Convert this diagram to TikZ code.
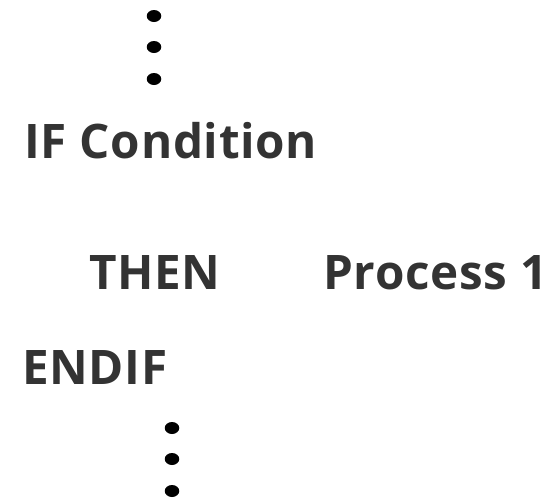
\documentclass[tikz,border=0pt]{standalone}
\usepackage{fontspec}
\setmainfont{Open Sans}[LetterSpace=1.5]
\usepackage{tikz}
\usetikzlibrary{positioning,shapes.geometric}
\definecolor{textgray}{HTML}{333333}

\begin{document}
\begin{tikzpicture}[x=1pt,y=-1pt]

\tikzstyle{every node}=[font=\fontsize{47.6}{52}\selectfont\bfseries, text=textgray, inner sep=0pt]
\tikzstyle{kw}=[anchor=base west]
\tikzstyle{dot}=[ellipse, fill=black, minimum width=14.5pt, minimum height=12pt, inner sep=0pt]

\useasboundingbox (0,0) rectangle (554,499);

% dots above %
\node[dot] (u1) at (154,16) {};
\node[dot] (u2) at (154,47) {};
\node[dot] (u3) at (154,79) {};

% statement %
\node[kw] (if) at (24,158) {IF Condition};
\node[kw] (then) at (89,289) {THEN};
\node[kw] (proc) at (323,289) {Process 1};
\node[kw] (endif) at (22,384) {ENDIF};

% dots below %
\node[dot] (l1) at (172,428) {};
\node[dot] (l2) at (172,459) {};
\node[dot] (l3) at (172,491) {};

\end{tikzpicture}
\end{document}
